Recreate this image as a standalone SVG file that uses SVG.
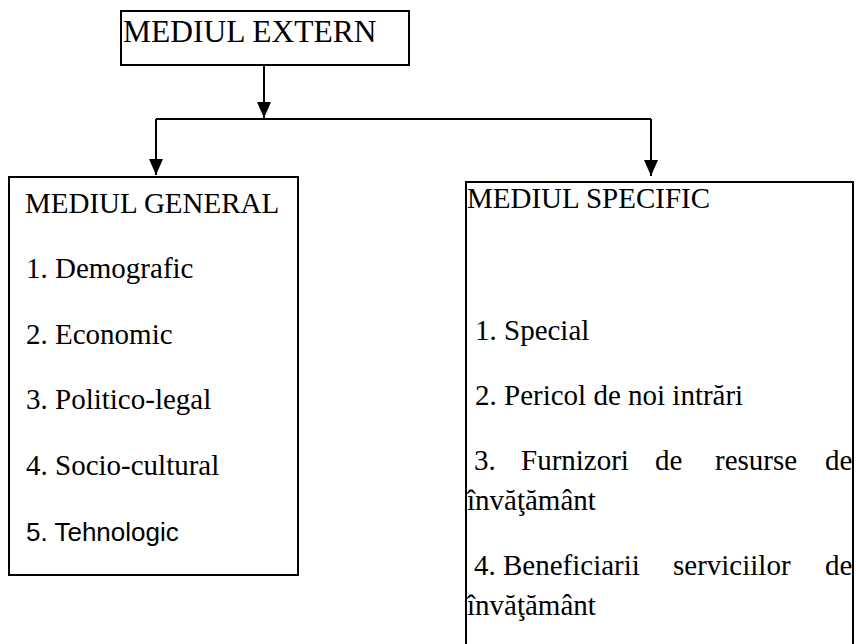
<svg xmlns="http://www.w3.org/2000/svg" width="856" height="644" viewBox="0 0 856 644">
<style>
.box{fill:#fff;stroke:#000;stroke-width:2}
.t{font-family:"Liberation Serif","Times New Roman",serif;font-size:29px;fill:#000}
.s{font-family:"Liberation Sans",Arial,sans-serif;font-size:26px;fill:#000}
.c{fill:none;stroke:#000;stroke-width:2}
</style>
<defs>
<marker id="ah" viewBox="0 0 16 14" refX="16" refY="7" markerWidth="16" markerHeight="14" markerUnits="userSpaceOnUse" orient="auto">
<path d="M0,0 L16,7 L0,14 Z" fill="#000"/>
</marker>
</defs>
<rect width="856" height="644" fill="#fff"/>
<g id="connectors">
<line class="c" x1="264" y1="65" x2="264" y2="118" marker-end="url(#ah)"/>
<polyline class="c" points="156,119 651,119"/>
<line class="c" x1="156" y1="119" x2="156" y2="175" marker-end="url(#ah)"/>
<line class="c" x1="651" y1="119" x2="651" y2="176" marker-end="url(#ah)"/>
</g>
<g id="mediul-extern">
<rect class="box" x="121" y="11" width="288" height="54"/>
<text class="t" x="123" y="42" style="font-size:31.5px">MEDIUL EXTERN</text>
</g>
<g id="mediul-general">
<rect class="box" x="9" y="177" width="289" height="398"/>
<text class="t" x="25" y="213">MEDIUL GENERAL</text>
<text class="t" x="26" y="278">1. Demografic</text>
<text class="t" x="26" y="344">2. Economic</text>
<text class="t" x="26" y="409">3. Politico-legal</text>
<text class="t" x="26" y="475">4. Socio-cultural</text>
<text class="s" x="26" y="541">5. Tehnologic</text>
</g>
<g id="mediul-specific">
<rect class="box" x="466" y="182" width="387" height="480"/>
<text class="t" x="467" y="208">MEDIUL SPECIFIC</text>
<text class="t" x="475" y="340">1. Special</text>
<text class="t" x="475" y="405">2. Pericol de noi intrări</text>
<text class="t" y="470"><tspan x="474">3.</tspan><tspan x="521">Furnizori</tspan><tspan x="655">de</tspan><tspan x="715">resurse</tspan><tspan x="825">de</tspan></text>
<text class="t" x="467" y="510">învăţământ</text>
<text class="t" y="575"><tspan x="474">4.</tspan><tspan x="503">Beneficiarii</tspan><tspan x="673">serviciilor</tspan><tspan x="825">de</tspan></text>
<text class="t" x="467" y="615">învăţământ</text>
</g>
</svg>
